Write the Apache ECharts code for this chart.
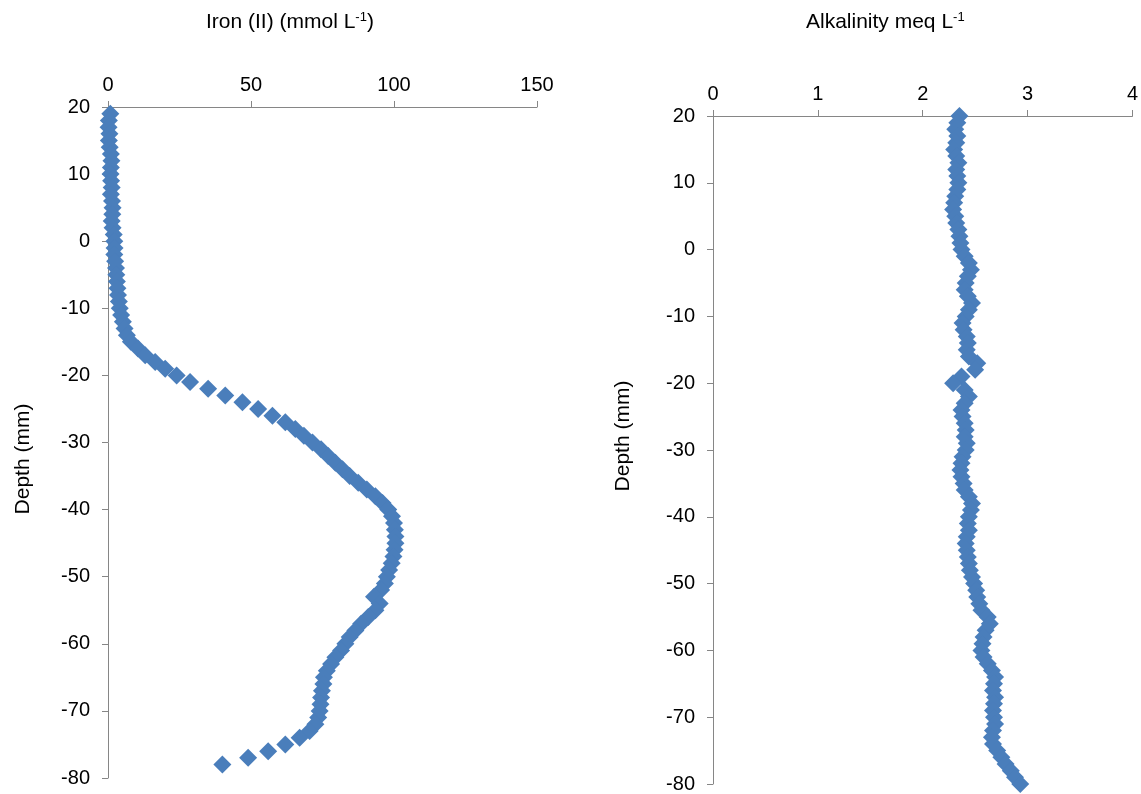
<!DOCTYPE html>
<html>
<head>
<meta charset="utf-8">
<script src="https://cdn.jsdelivr.net/npm/echarts@6/dist/echarts.min.js"></script>
<style>
html,body{margin:0;padding:0;background:#fff;}
#chart{width:1141px;height:794px;}
</style>
</head>
<body>
<div id="chart"></div>
<script>
// Left panel: Iron (II)
const ironDepth = [19,18,17,16,15,14,13,12,11,10,9,8,7,6,5,4,3,2,1,0,
 -1,-2,-3,-4,-5,-6,-7,-8,-9,-10,-11,-12,-13,-14,-15,-16,-17,-18,-19,-20,
 -21,-22,-23,-24,-25,-26,-27,-28,-29,-30,-31,-32,-33,-34,-35,-36,-37,-38,-39,-40,
 -41,-42,-43,-44,-45,-46,-47,-48,-49,-50,-51,-52,-53,-54,-55,-56,-57,-58,-59,-60,
 -61,-62,-63,-64,-65,-66,-67,-68,-69,-70,-71,-72,-73,-74,-75,-76,-77,-78];
const ironValues = [0.8,0.3,0.2,0.5,0.3,0.6,1.0,1.2,1.0,0.9,1.1,1.3,1.0,1.4,1.6,1.5,1.3,1.6,2.0,2.2,
 2.3,2.2,2.5,2.8,2.9,3.1,3.3,3.5,3.8,4.1,4.6,5.2,5.8,6.6,8.0,10.5,13,16.5,20,24,
 28.7,35,41,47,52.5,57.5,62,65.5,68.5,71.5,74.5,77,79.5,82,84.5,87.5,90.5,93.5,96,98,
 99.3,100,100.3,100.5,100.5,100.2,99.8,99.2,98.3,97.5,96.8,95.5,93,95,93.5,91,88.5,86.5,84.5,83,
 81.5,79.5,78,76.5,75.5,75.3,74.8,74.5,74.3,74,73.5,72.5,70.5,67,62,56,49,40];

// Right panel: Alkalinity
const alkDepth = [20,19,18,17,16,15,14,13,12,11,10,9,8,7,6,5,4,3,2,1,0,
 -1,-2,-3,-4,-5,-6,-7,-8,-9,-10,-11,-12,-13,-14,-15,-16,-17,-18,-19,-20,
 -21,-22,-23,-24,-25,-26,-27,-28,-29,-30,-31,-32,-33,-34,-35,-36,-37,-38,-39,-40,
 -41,-42,-43,-44,-45,-46,-47,-48,-49,-50,-51,-52,-53,-54,-55,-56,-57,-58,-59,-60,
 -61,-62,-63,-64,-65,-66,-67,-68,-69,-70,-71,-72,-73,-74,-75,-76,-77,-78,-79,-80];
const alkValues = [2.35,2.33,2.31,2.33,2.32,2.30,2.32,2.34,2.32,2.33,2.34,2.33,2.31,2.30,2.29,2.31,2.32,2.34,2.35,2.36,2.37,
 2.40,2.44,2.46,2.43,2.41,2.40,2.43,2.47,2.44,2.41,2.38,2.39,2.42,2.43,2.42,2.44,2.52,2.50,2.37,2.29,
 2.40,2.44,2.40,2.37,2.38,2.40,2.41,2.40,2.42,2.41,2.38,2.37,2.36,2.37,2.39,2.40,2.44,2.47,2.46,2.44,
 2.43,2.44,2.42,2.41,2.42,2.43,2.44,2.45,2.47,2.49,2.51,2.52,2.54,2.56,2.62,2.64,2.60,2.58,2.57,2.56,
 2.58,2.62,2.66,2.69,2.68,2.67,2.69,2.68,2.67,2.68,2.69,2.67,2.66,2.67,2.71,2.75,2.79,2.84,2.88,2.93];

const yAxisTitle = 'Depth (mm)';

const FONT = 'Liberation Sans, Arial, sans-serif';
const FS = 20;
const FS_NAME = 21;
const MARK = '#4a7ebb';
const axisGrey = '#868686';

function xAxisCfg(gridIndex, min, max, interval) {
  return {
    type: 'value', gridIndex, position: 'top', min, max, interval,
    axisLine: {show: true, onZero: false, lineStyle: {color: axisGrey, width: 1}},
    axisTick: {show: true, inside: false, length: 6, lineStyle: {color: axisGrey}},
    axisLabel: {color: '#000', fontFamily: FONT, fontSize: FS, margin: 12},
    splitLine: {show: false}
  };
}
function yAxisCfg(gridIndex) {
  return {
    type: 'value', gridIndex, min: -80, max: 20, interval: 10,
    axisLine: {show: true, onZero: false, lineStyle: {color: axisGrey, width: 1}},
    axisTick: {show: true, inside: false, length: 6, lineStyle: {color: axisGrey}},
    axisLabel: {color: '#000', fontFamily: FONT, fontSize: FS, margin: 18},
    splitLine: {show: false}
  };
}
const titleStyle = {
  fontFamily: FONT, fontSize: FS_NAME, fontWeight: 'normal', color: '#000',
  rich: {sup: {fontFamily: FONT, fontSize: 13, color: '#000', padding: [0, 0, 9, 0]}}
};
function yName(x, y) {
  return {
    type: 'text', x, y, rotation: Math.PI / 2,
    style: {text: yAxisTitle, font: FS_NAME + 'px ' + FONT, fill: '#000',
      textAlign: 'center', textVerticalAlign: 'middle'}
  };
}

const chart = echarts.init(document.getElementById('chart'), null, {renderer: 'canvas'});
chart.setOption({
  backgroundColor: '#fff',
  animation: false,
  title: [
    {text: 'Iron (II) (mmol L{sup|-1})', left: 206, top: 11, padding: 0, textStyle: titleStyle},
    {text: 'Alkalinity meq L{sup|-1}', left: 806, top: 11, padding: 0, textStyle: titleStyle}
  ],
  graphic: [yName(23, 459), yName(623, 436)],
  grid: [
    {left: 108, top: 107, width: 429, height: 671},
    {left: 713, top: 116, width: 420, height: 669}
  ],
  xAxis: [xAxisCfg(0, 0, 150, 50), xAxisCfg(1, 0, 4, 1)],
  yAxis: [yAxisCfg(0), yAxisCfg(1)],
  series: [
    {
      type: 'scatter', xAxisIndex: 0, yAxisIndex: 0, clip: false,
      symbol: 'diamond', symbolSize: 18,
      itemStyle: {color: MARK, opacity: 1},
      data: ironDepth.map((d, i) => [ironValues[i], d])
    },
    {
      type: 'scatter', xAxisIndex: 1, yAxisIndex: 1, clip: false,
      symbol: 'diamond', symbolSize: 18,
      itemStyle: {color: MARK, opacity: 1},
      data: alkDepth.map((d, i) => [alkValues[i], d])
    }
  ]
});
</script>
</body>
</html>
